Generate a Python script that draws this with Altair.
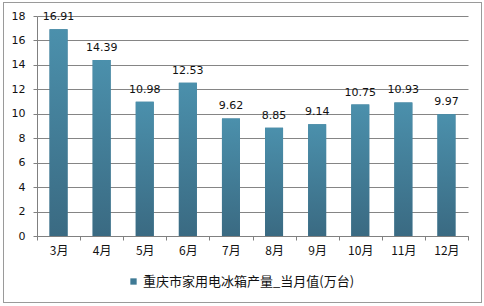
import altair as alt
import pandas as pd

months = ["3月", "4月", "5月", "6月", "7月", "8月", "9月", "10月", "11月", "12月"]
values = [16.91, 14.39, 10.98, 12.53, 9.62, 8.85, 9.14, 10.75, 10.93, 9.97]
series_name = "重庆市家用电冰箱产量_当月值(万台)"

df = pd.DataFrame({"month": months, "value": values, "series": [series_name] * len(months)})

x_enc = alt.X("month:N", sort=months, title=None,
              scale=alt.Scale(paddingInner=0, paddingOuter=0),
              axis=alt.Axis(labelAngle=0, tickBand="extent", tickSize=4, labelPadding=5,
                            labelFont="Noto Sans CJK SC", labelFontSize=12, labelColor="#111",
                            domainColor="#808080", tickColor="#808080", grid=False))
y_enc = alt.Y("value:Q", title=None,
              scale=alt.Scale(domain=[0, 18], nice=False),
              axis=alt.Axis(values=list(range(0, 19, 2)), tickSize=4, labelPadding=8,
                            labelFont="DejaVu Sans", labelFontSize=11, labelColor="#111",
                            domainColor="#808080", tickColor="#808080",
                            grid=True, gridColor="#858585"))

base = alt.Chart(df)

legend_bars = base.mark_bar(width=18).encode(
    x=x_enc, y=y_enc,
    color=alt.Color("series:N", title=None,
                    scale=alt.Scale(range=["#3f7a95"]),
                    legend=alt.Legend(orient="none", legendX=90, legendY=259, padding=0,
                                      symbolType="square", symbolSize=40, labelOffset=3,
                                      labelLimit=0,
                                      labelFont="Noto Sans CJK SC", labelFontSize=13,
                                      labelColor="#111", symbolStrokeWidth=0)),
)

gradient = alt.LinearGradient(
    gradient="linear", x1=0, x2=0, y1=0, y2=1,
    stops=[alt.GradientStop(color="#4b90ac", offset=0),
           alt.GradientStop(color="#3a6a82", offset=1)])

grad_bars = base.mark_bar(width=18, color=gradient).encode(x=x_enc, y=y_enc)

labels = base.mark_text(baseline="bottom", dy=-7, font="DejaVu Sans", fontSize=11,
                        color="#111").encode(
    x=x_enc, y=y_enc, text=alt.Text("value:Q", format=".2f"))

border = base.mark_rect(fill=None, stroke="#9a9a9a", strokeWidth=1).encode(
    x=alt.value(-33.5), x2=alt.value(444.5), y=alt.value(-13.5), y2=alt.value(286.5))

chart = alt.layer(legend_bars, grad_bars, labels, border).properties(
    width=431, height=220,
    autosize=alt.AutoSizeParams(type="none"),
    padding={"left": 37, "top": 16, "right": 16, "bottom": 70},
    background="white",
).configure_view(stroke=None)

chart.save("out.html", embed_options={"renderer": "svg", "actions": False})
